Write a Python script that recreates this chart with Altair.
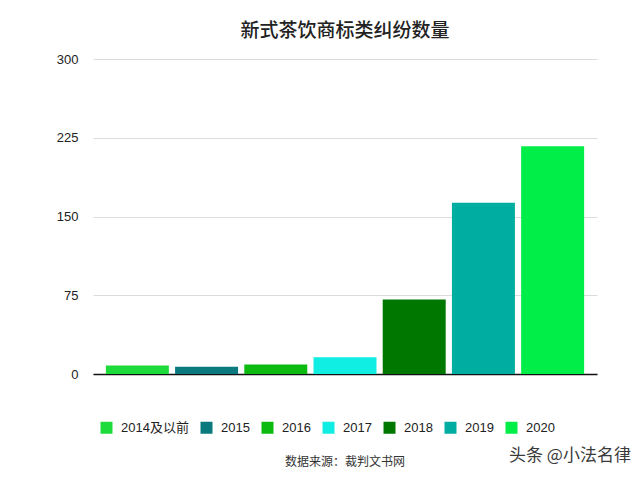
import altair as alt
import pandas as pd

years = ["2014及以前", "2015", "2016", "2017", "2018", "2019", "2020"]
counts = [8, 7, 9, 16, 71, 163, 217]
colors = ["#1EDB3C", "#0B7A7E", "#0DBB10", "#10EDE3", "#007800", "#00ADA1", "#00EE47"]
y_ticks = [0, 75, 150, 225, 300]
title_text = "新式茶饮商标类纠纷数量"
source_text = "数据来源：裁判文书网"
watermark_text = "头条 @小法名律"

df = pd.DataFrame({"year": years, "count": counts})

LAT = "Liberation Sans, Noto Sans CJK SC"
CJK = "Noto Sans CJK SC"

bars = alt.Chart(df).mark_bar().encode(
    x=alt.X("year:N", sort=years,
            scale=alt.Scale(paddingInner=0.09, paddingOuter=0.186),
            axis=alt.Axis(title=None, labels=False, ticks=False,
                          domainColor="#111", domainWidth=1.5, grid=False)),
    y=alt.Y("count:Q", scale=alt.Scale(domain=[0, 300], nice=False),
            axis=alt.Axis(title=None, values=y_ticks, domain=False, ticks=False,
                          labelPadding=15, labelFontSize=13, labelFont=LAT,
                          labelColor="#222", gridColor="#dcdcdc", gridWidth=1)),
    color=alt.Color("year:N", sort=years,
                    scale=alt.Scale(domain=years, range=colors),
                    legend=alt.Legend(title=None, orient="none", direction="horizontal",
                                      legendX=7, legendY=362,
                                      symbolType="square", symbolSize=144,
                                      symbolStrokeWidth=0, symbolOpacity=1,
                                      labelFontSize=13, labelFont=LAT, labelColor="#222",
                                      labelOffset=8, columnPadding=11, padding=0)),
)

src = alt.Chart(pd.DataFrame({"t": [source_text]})).mark_text(
    font=CJK, fontSize=12, color="#333", align="center", baseline="middle"
).encode(text="t:N", x=alt.value(252), y=alt.value(403))

wm = alt.Chart(pd.DataFrame({"t": [watermark_text]})).mark_text(
    font=CJK, fontSize=17, color="#3a3a3a", align="left", baseline="middle"
).encode(text="t:N", x=alt.value(416), y=alt.value(397))

chart = alt.layer(bars, src, wm).properties(
    width=504, height=315,
    background="white",
    title=alt.TitleParams(title_text, fontSize=19, font=CJK, fontWeight=500,
                          color="#222", anchor="middle", offset=12),
    autosize=alt.AutoSizeParams(type="none"),
    padding={"left": 85, "top": 51, "right": 35, "bottom": 96},
).configure_view(stroke=None, strokeWidth=0)

chart.save("out.html", embed_options={"renderer": "svg", "actions": False})
